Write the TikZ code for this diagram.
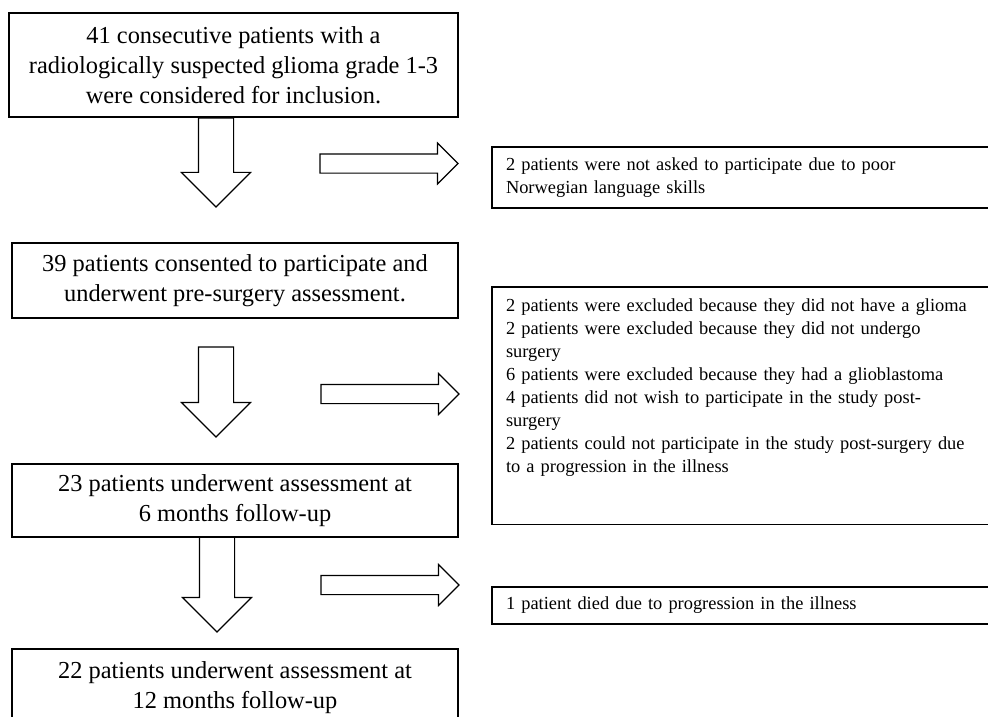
\documentclass[tikz,border=0pt]{standalone}
\usepackage{fontspec}
\setmainfont{Liberation Serif}
\usetikzlibrary{shapes.arrows}

\begin{document}
\begin{tikzpicture}[x=1pt,y=-1pt,
        every node/.style={outer sep=0pt},
        mainbox/.style={draw, line width=1.8pt, rectangle, align=center, inner sep=0pt, font=\fontsize{24.4}{30}\selectfont},
        sidebox/.style={draw, line width=1.8pt, rectangle, anchor=north west, align=left, text width=540pt, inner xsep=14pt, font=\fontsize{18.4}{23}\selectfont},
        downarr/.style={draw, line width=1.1pt, single arrow, rotate=-90, anchor=tail, inner xsep=0pt, inner ysep=17pt, single arrow head extend=17pt, minimum height=89pt},
        rightarr/.style={draw, line width=1.1pt, single arrow, anchor=tail, inner xsep=0pt, inner ysep=9pt, single arrow head extend=11pt, minimum height=138pt}]
            \useasboundingbox (0,0) rectangle (988,717);
            \clip (0,0) rectangle (988,717);

            \node[mainbox, minimum width=449pt, minimum height=104pt] (n41) at (233.5,65) {41 consecutive patients with a\\radiologically suspected glioma grade 1-3\\were considered for inclusion.};
            \node[mainbox, minimum width=446pt, minimum height=75pt] (n39) at (235,280.5) {39 patients consented to participate and\\underwent pre-surgery assessment.};
            \node[mainbox, minimum width=446pt, minimum height=73pt] (n23) at (235,500.5) {23 patients underwent assessment at\\6 months follow-up};
            \node[mainbox, minimum width=446pt, minimum height=77pt] (n22) at (235,687.5) {22 patients underwent assessment at\\12 months follow-up};

            \node[sidebox, minimum height=61pt] (out1) at (492,147) {2 patients were not asked to participate due to poor\\Norwegian language skills};
            \node[sidebox, inner ysep=11.4pt, text depth=202pt] (out2) at (492,287) {2 patients were excluded because they did not have a glioma\\2 patients were excluded because they did not undergo\\surgery\\6 patients were excluded because they had a glioblastoma\\4 patients did not wish to participate in the study post-\\surgery\\2 patients could not participate in the study post-surgery due\\to a progression in the illness};
            \node[sidebox, minimum height=37pt] (out3) at (492,587) {1 patient died due to progression in the illness};

            \node[downarr] (down1) at (216,118) {};
            \node[downarr, minimum height=90pt] (down2) at (216,347) {};
            \node[downarr, minimum height=95pt] (down3) at (217,537) {};

            \node[rightarr] (right1) at (320,163.5) {};
            \node[rightarr] (right2) at (321,394) {};
            \node[rightarr] (right3) at (321,585) {};
        \end{tikzpicture}
\end{document}
